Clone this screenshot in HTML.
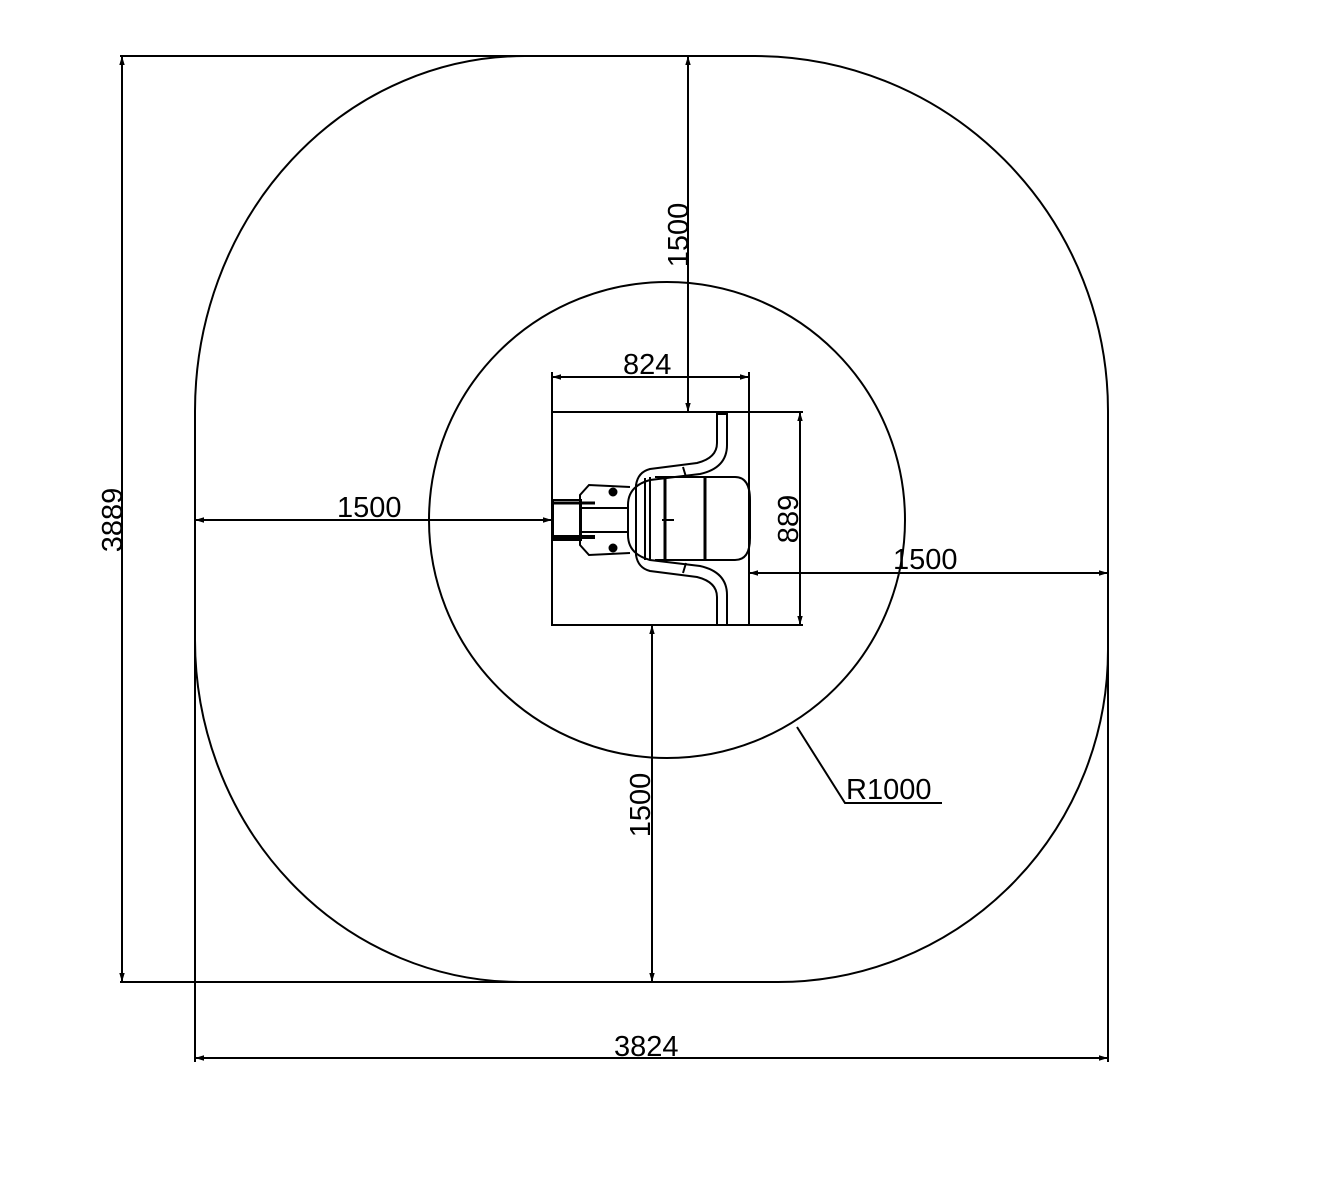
<!DOCTYPE html>
<html><head><meta charset="utf-8"><style>body{margin:0;background:#fff}svg{display:block}text{font-family:"Liberation Sans",sans-serif;font-size:29px;fill:#000}</style></head>
<body>
<svg width="1327" height="1200" viewBox="0 0 1327 1200" xmlns="http://www.w3.org/2000/svg">
<defs>
<marker id="a" viewBox="0 0 10 10" refX="10" refY="5" markerWidth="9" markerHeight="9" orient="auto-start-reverse" markerUnits="userSpaceOnUse"><path d="M0,2 L10,5 L0,8 z" fill="#000"/></marker>
</defs>
<g fill="none" stroke="#000" stroke-width="2">
<!-- outer rounded shape -->
<path d="M525,56 L755,56 A353,355 0 0 1 1108,411 L1108,650 A330,332 0 0 1 778,982 L520,982 A325,342 0 0 1 195,640 L195,411 A330,355 0 0 1 525,56 Z"/>
<!-- inner circle -->
<circle cx="667" cy="520" r="238"/>
<!-- base rectangle -->
<rect x="552" y="412" width="197" height="213"/>
<line x1="749" y1="412" x2="803" y2="412"/>
<line x1="749" y1="625" x2="803" y2="625"/>
<!-- extension lines -->
<line x1="120" y1="56" x2="525" y2="56"/>
<line x1="120" y1="982" x2="520" y2="982"/>
<line x1="195" y1="640" x2="195" y2="1062"/>
<line x1="1108" y1="650" x2="1108" y2="1062"/>
<line x1="552" y1="372" x2="552" y2="412"/>
<line x1="749" y1="372" x2="749" y2="412"/>
<!-- dims -->
<line x1="122" y1="56" x2="122" y2="982" marker-start="url(#a)" marker-end="url(#a)"/>
<line x1="195" y1="1058" x2="1108" y2="1058" marker-start="url(#a)" marker-end="url(#a)"/>
<line x1="552" y1="377" x2="749" y2="377" marker-start="url(#a)" marker-end="url(#a)"/>
<line x1="800" y1="412" x2="800" y2="625" marker-start="url(#a)" marker-end="url(#a)"/>
<line x1="688" y1="56" x2="688" y2="412" marker-start="url(#a)" marker-end="url(#a)"/>
<line x1="195" y1="520" x2="552" y2="520" marker-start="url(#a)" marker-end="url(#a)"/>
<line x1="749" y1="573" x2="1108" y2="573" marker-start="url(#a)" marker-end="url(#a)"/>
<line x1="652" y1="625" x2="652" y2="982" marker-start="url(#a)" marker-end="url(#a)"/>
<!-- leader -->
<polyline points="797,727 845,803 942,803"/>
<!-- robot -->
<path d="M717,414 L727,414 L727,445 Q727,468 700,474 L650,480 Q628,486 628,505 L628,535 Q628,554 650,560 L700,566 Q727,572 727,595 L727,625 L717,625 L717,597 Q717,582 697,577 L650,571 Q638,568 636,555 L636,485 Q638,472 650,469 L697,463 Q717,458 717,443 Z"/>
<line x1="683" y1="467" x2="686" y2="477"/><line x1="683" y1="573" x2="686" y2="563"/>
<path d="M655,477 L735,477 Q750,477 750,500 L750,538 Q750,560 735,560 L655,560"/>
<line x1="665" y1="477" x2="665" y2="560" stroke-width="3"/>
<line x1="705" y1="477" x2="705" y2="560" stroke-width="3"/>
<line x1="645" y1="478" x2="645" y2="560"/><line x1="650" y1="477" x2="650" y2="560"/>
<line x1="662" y1="520" x2="674" y2="520"/>
<path d="M630,487 L589,485 L580,495 L580,545 L589,555 L630,553"/>
<rect x="580" y="508" width="48" height="24"/>
<rect x="553" y="500" width="28" height="40"/>
<line x1="553" y1="503" x2="595" y2="503" stroke-width="3"/>
<line x1="553" y1="537" x2="595" y2="537" stroke-width="4"/>
<circle cx="613" cy="492" r="3.5" fill="#000"/><circle cx="613" cy="548" r="3.5" fill="#000"/>
</g>
<text x="337" y="517">1500</text>
<text x="893" y="569">1500</text>
<text x="623" y="374">824</text>
<text x="614" y="1056">3824</text>
<text x="846" y="799">R1000</text>
<text transform="translate(688,235) rotate(-90)" text-anchor="middle">1500</text>
<text transform="translate(650,805) rotate(-90)" text-anchor="middle">1500</text>
<text transform="translate(122,520) rotate(-90)" text-anchor="middle">3889</text>
<text transform="translate(798,519) rotate(-90)" text-anchor="middle">889</text>
</svg>
</body></html>
